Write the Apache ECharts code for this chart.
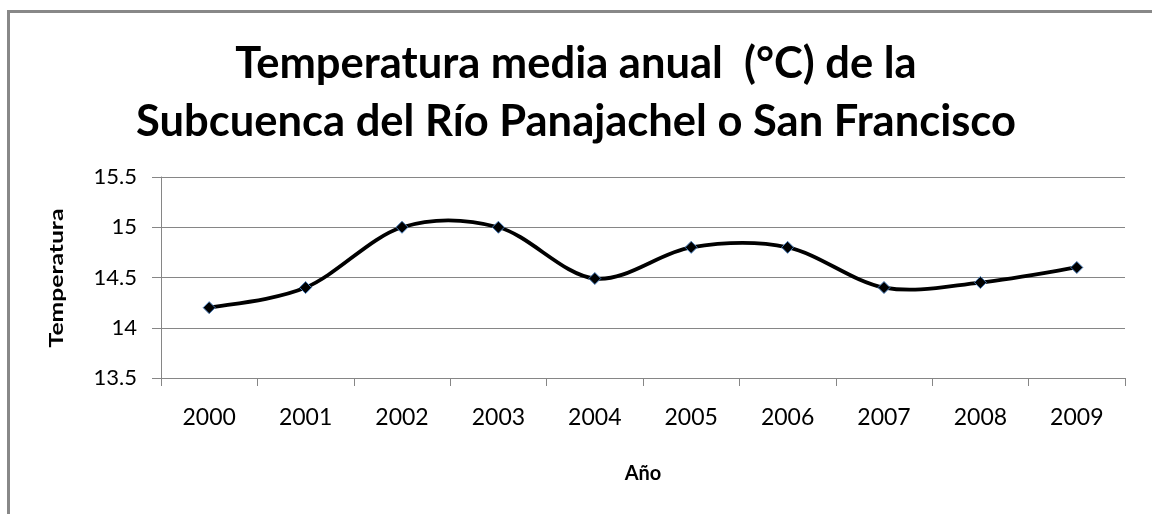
<!DOCTYPE html>
<title>temperatura media anual</title>
<style>
body {margin: 0; background: #fff;}
#echart {height: 514px; width: 1152px;}
</style>
<div id='echart'></div>
<script src='https://cdn.jsdelivr.net/npm/echarts@6/dist/echarts.min.js'></script>
<script>
let years = ['2000', '2001', '2002', '2003', '2004', '2005', '2006', '2007', '2008', '2009']
let temps = [14.2, 14.4, 15.0, 15.0, 14.49, 14.8, 14.8, 14.4, 14.45, 14.6]
let title_lines = ['Temperatura media anual  (°C) de la', 'Subcuenca del Río Panajachel o San Francisco']
let y_name = 'Temperatura'
let x_name = 'Año'

let font = 'Lato, "Open Sans", sans-serif'
let gray = '#868686'

// excel-style smoothed line: catmull-rom segments through the axis coords
function render_curve(params, api) {
	let i = params.dataIndex
	if (i >= temps.length - 1) return {type: 'group', children: []}
	let at = k => {
		k = Math.max(0, Math.min(temps.length - 1, k))
		return api.coord([k, temps[k]])
	}
	let p0 = at(i - 1), p1 = at(i), p2 = at(i + 1), p3 = at(i + 2)
	return {
		type: 'bezierCurve',
		shape: {
			x1: p1[0], y1: p1[1], x2: p2[0], y2: p2[1],
			cpx1: p1[0] + (p2[0] - p0[0]) / 6, cpy1: p1[1] + (p2[1] - p0[1]) / 6,
			cpx2: p2[0] - (p3[0] - p1[0]) / 6, cpy2: p2[1] - (p3[1] - p1[1]) / 6,
		},
		style: {fill: 'none', stroke: '#000', lineWidth: 3.8, lineCap: 'round'},
	}
}

let echart = echarts.init(document.querySelector('#echart'))
let option = {
	animation: false,
	backgroundColor: '#fff',
	title: {
		text: title_lines.join('\n'),
		left: 'center', top: 30,
		textStyle: {fontFamily: font, fontWeight: 'bold', fontSize: 43.5, lineHeight: 58, color: '#000'},
	},
	graphic: [
		{type: 'rect', shape: {x: 8.5, y: 11.5, width: 1300, height: 700}, style: {fill: 'none', stroke: '#888', lineWidth: 3}, silent: true},
		{
			type: 'text', x: 57, y: 278, rotation: Math.PI / 2, scaleX: 1.37,
			style: {text: y_name, fontFamily: font, fontWeight: 'bold', fontSize: 18, fill: '#000', align: 'center', verticalAlign: 'middle'},
			silent: true,
		},
	],
	grid: {left: 161, right: 27, top: 177, bottom: 136, containLabel: false},
	xAxis: {
		type: 'category', data: years, boundaryGap: true,
		name: x_name, nameLocation: 'middle', nameGap: 86,
		nameTextStyle: {fontFamily: font, fontWeight: 'bold', fontSize: 20, color: '#000'},
		axisLine: {lineStyle: {color: gray, width: 1}},
		axisTick: {show: true, length: 8, lineStyle: {color: gray}},
		axisLabel: {fontFamily: font, fontSize: 23, color: '#000', margin: 28},
	},
	yAxis: {
		type: 'value', min: 13.5, max: 15.5, interval: 0.5,
		axisLine: {show: true, lineStyle: {color: gray, width: 1}},
		axisTick: {show: true, length: 9, lineStyle: {color: gray}},
		axisLabel: {fontFamily: font, fontSize: 22, color: '#000', margin: 24},
		splitLine: {show: true, lineStyle: {color: gray, width: 1}},
	},
	series: [
		{
			type: 'custom', data: temps.map((t, i) => [i, t]), encode: {x: 0, y: 1},
			renderItem: render_curve, z: 2, silent: true,
		},
		{
			type: 'scatter', data: temps, z: 3,
			symbol: 'diamond', symbolSize: 12,
			itemStyle: {color: '#000', borderColor: '#4a7ebb', borderWidth: 1, opacity: 1},
		},
	],
}

echart.setOption(option)
</script>
